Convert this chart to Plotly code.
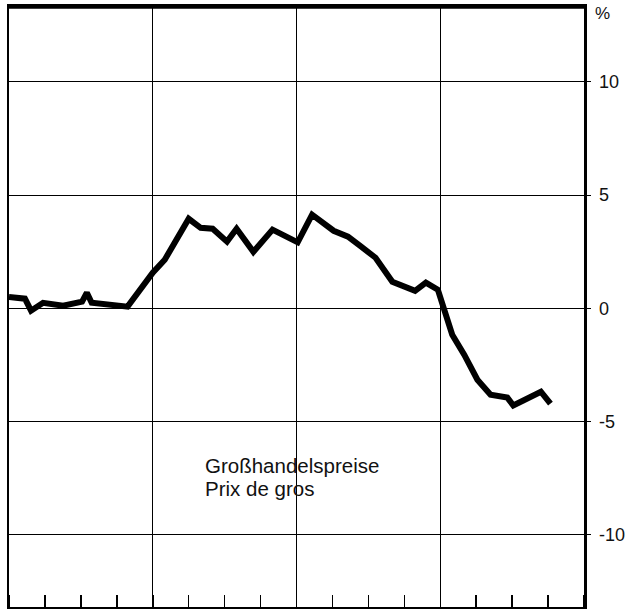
import plotly.graph_objects as go

months = [0, 1.33, 1.84, 2.84, 4.52, 6.1, 6.5, 6.9, 9.9, 11.0, 12.0, 13.0, 15.0, 16.0,
          17.0, 18.2, 19.0, 20.4, 22.0, 24.1, 25.3, 27.1, 28.3, 29.4, 30.6, 32.0, 33.9,
          34.8, 35.8, 37.0, 38.0, 39.1, 40.2, 41.6, 42.1, 44.4, 45.2]
values = [0.49, 0.42, -0.11, 0.24, 0.11, 0.29, 0.68, 0.24, 0.07, 0.91, 1.57, 2.14, 3.95,
          3.55, 3.51, 2.94, 3.51, 2.49, 3.47, 2.91, 4.13, 3.42, 3.16, 2.72, 2.23, 1.17,
          0.77, 1.13, 0.82, -1.17, -2.05, -3.16, -3.82, -3.95, -4.30, -3.69, -4.22]

y_tickvals = [10, 5, 0, -5, -10]
y_ticktext = ["10", "5", "0", "-5", "-10"]
year_lines = [0, 12, 24, 36, 48]
label_de = "Großhandelspreise"
label_fr = "Prix de gros"

fig = go.Figure()
fig.add_trace(go.Scatter(x=months, y=values, mode="lines",
                         line=dict(color="black", width=6), showlegend=False,
                         hoverinfo="skip"))

fig.update_layout(
    width=631, height=611,
    margin=dict(l=9, r=47, t=6, b=4),
    paper_bgcolor="white", plot_bgcolor="white",
    hovermode=False,
    font=dict(family="Liberation Sans, Arial, sans-serif", color="#111"),
    xaxis=dict(range=[0, 48], tickvals=year_lines, showticklabels=False,
               showgrid=True, gridcolor="black", gridwidth=1,
               ticks="", zeroline=False,
               showline=True, mirror=True, linecolor="black", linewidth=2,
               minor=dict(dtick=3, tick0=0, ticks="inside", ticklen=12,
                          tickcolor="black", tickwidth=1.5, showgrid=False)),
    yaxis=dict(range=[-13.2, 13.35], side="right", tickvals=y_tickvals,
               ticktext=y_ticktext, showgrid=True, gridcolor="black", gridwidth=1,
               zeroline=True, zerolinecolor="black", zerolinewidth=1,
               ticks="outside", ticklen=4, tickcolor="black",
               ticklabelstandoff=5,
               tickfont=dict(size=18, color="#111"),
               showline=True, mirror=True, linecolor="black", linewidth=2.5),
)

# explicit frame along the top of the plot area (drawn a little inside)
fig.add_shape(type="rect", xref="paper", yref="paper", x0=0, x1=1, y0=0.9955, y1=1.0,
              line=dict(width=0), fillcolor="black", layer="above")

fig.add_annotation(xref="paper", yref="paper", x=1.0, y=1.0, xanchor="left",
                   yanchor="top", xshift=9, yshift=4, text="%", showarrow=False,
                   font=dict(size=17, color="#111"))
fig.add_annotation(x=16.2, y=-6.95, xanchor="left", yanchor="middle",
                   text=label_de, showarrow=False, font=dict(size=20.5, color="#111"))
fig.add_annotation(x=16.2, y=-7.97, xanchor="left", yanchor="middle",
                   text=label_fr, showarrow=False, font=dict(size=20.5, color="#111"))

fig.write_html("out.html", config={"displayModeBar": False, "staticPlot": True},
               post_script="document.body.style.margin='0';")
